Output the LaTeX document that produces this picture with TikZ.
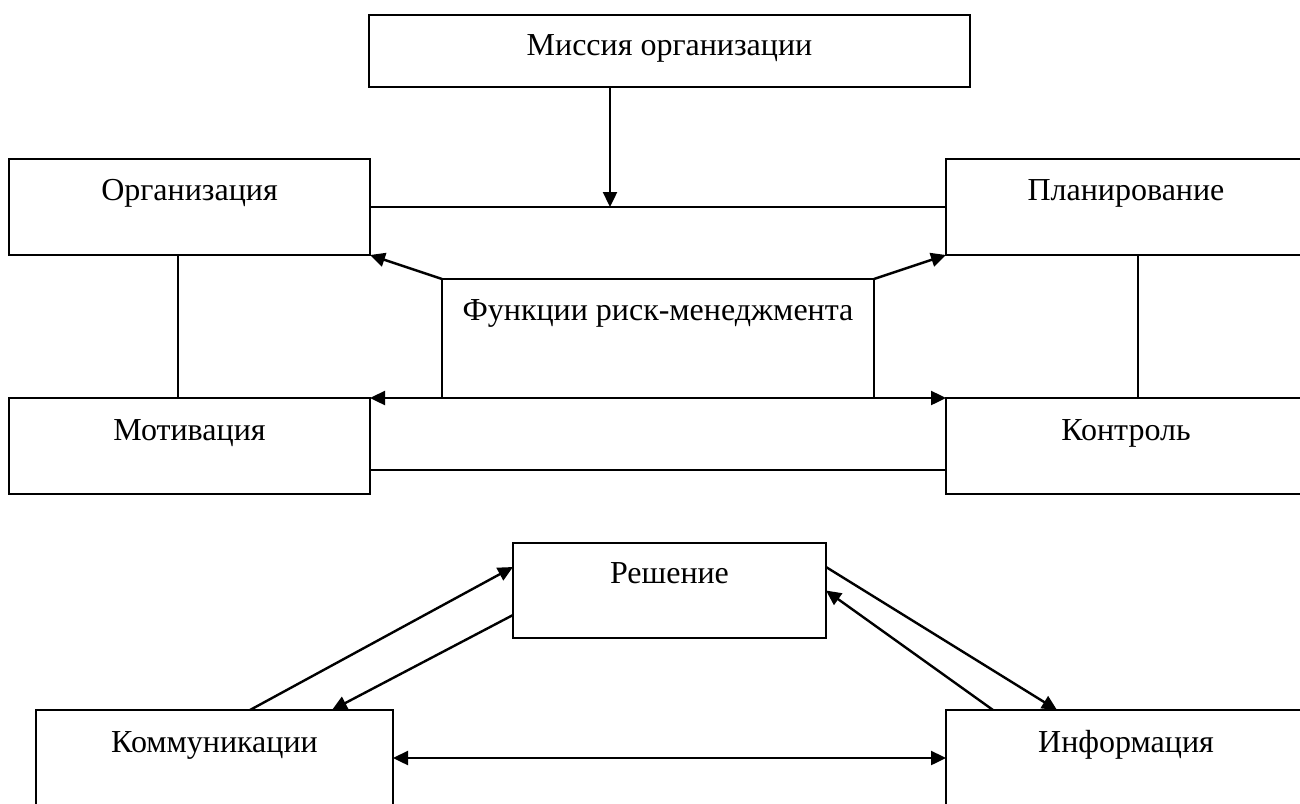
\documentclass[tikz,border=0pt]{standalone}
\usepackage{fontspec}
\setmainfont{Liberation Serif}
\usetikzlibrary{arrows.meta}

\begin{document}
\begin{tikzpicture}[x=1pt,y=-1pt,line width=2.4pt,
    box/.style={draw,inner sep=0pt,outer sep=0pt},
    lbl/.style={anchor=base,inner sep=0pt,font=\fontsize{32}{38}\selectfont},
    arr/.style={-{Triangle[length=15pt,width=14pt]}},
    dblarr/.style={{Triangle[length=15pt,width=14pt]}-{Triangle[length=15pt,width=14pt]}}]
  \useasboundingbox (0,0) rectangle (1300,803);
  \node[box,minimum width=601pt,minimum height=72pt] (mission) at (669.5,51) {};
  \node[box,minimum width=361pt,minimum height=96pt] (org) at (189.5,207) {};
  \node[box,minimum width=360pt,minimum height=96pt] (plan) at (1126,207) {};
  \node[box,minimum width=432pt,minimum height=119pt] (func) at (658,338.5) {};
  \node[box,minimum width=361pt,minimum height=96pt] (motiv) at (189.5,446) {};
  \node[box,minimum width=360pt,minimum height=96pt] (ctrl) at (1126,446) {};
  \node[box,minimum width=313pt,minimum height=95pt] (dec) at (669.5,590.5) {};
  \node[box,minimum width=357pt,minimum height=96pt] (komm) at (214.5,758) {};
  \node[box,minimum width=360pt,minimum height=96pt] (info) at (1126,758) {};

  \node[lbl] (mission-t) at (669.5,55) {Миссия организации};
  \node[lbl] (org-t) at (189.5,200) {Организация};
  \node[lbl] (plan-t) at (1126,200) {Планирование};
  \node[lbl] (func-t) at (658,320) {Функции риск-менеджмента};
  \node[lbl] (motiv-t) at (189.5,440) {Мотивация};
  \node[lbl] (ctrl-t) at (1126,440) {Контроль};
  \node[lbl] (dec-t) at (669.5,583) {Решение};
  \node[lbl] (komm-t) at (214.5,752) {Коммуникации};
  \node[lbl] (info-t) at (1126,752) {Информация};

  \coordinate (mjoin) at (610,207);
  \draw[arr] (mission.south -| mjoin) -- (mjoin);
  \draw (org.east) -- (plan.west);
  \draw[arr] (func.north west) -- (org.south east);
  \draw[arr] (func.north east) -- (plan.south west);
  \draw[arr] (func.south west) -- (motiv.north east);
  \draw[arr] (func.south east) -- (ctrl.north west);
  \draw ([xshift=-11.5pt]org.south) -- ([xshift=-11.5pt]motiv.north);
  \draw ([xshift=12pt]plan.south) -- ([xshift=12pt]ctrl.north);
  \draw ([yshift=-24pt]motiv.east) -- ([yshift=-24pt]ctrl.west);

  \draw[arr] ([xshift=35.5pt]komm.north) -- ([yshift=23.5pt]dec.west);
  \draw[arr] ([yshift=-24.5pt]dec.west) -- ([xshift=117.5pt]komm.north);
  \draw[arr] ([yshift=23.5pt]dec.east) -- ([xshift=-69pt]info.north);
  \draw[arr] ([xshift=-133pt]info.north) -- (dec.east);
  \draw[dblarr] (komm.east) -- (info.west);
\end{tikzpicture}
\end{document}
